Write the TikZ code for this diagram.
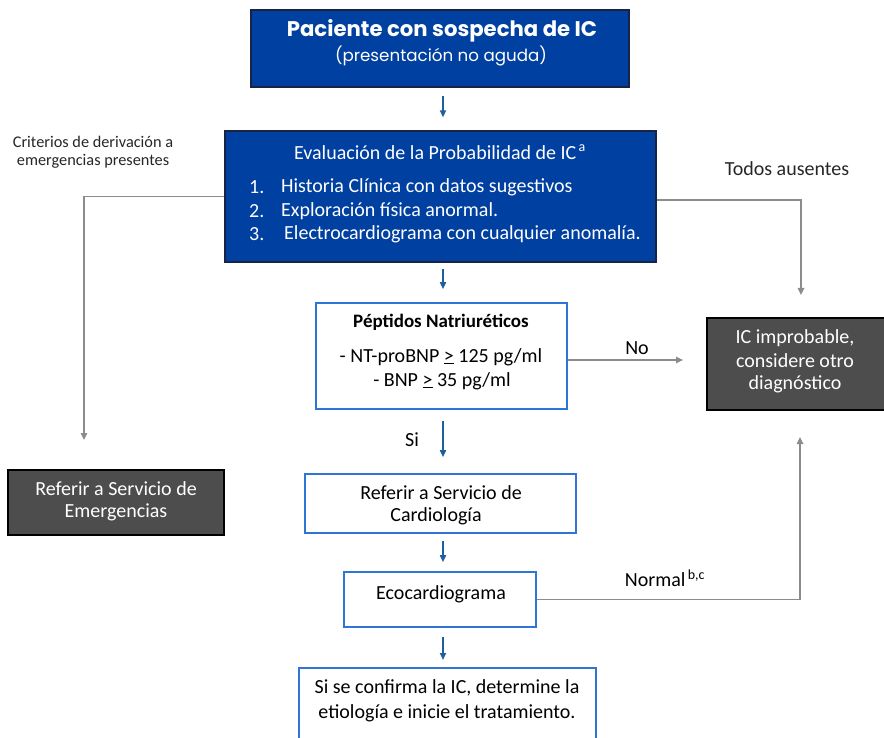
\documentclass[tikz,border=0pt]{standalone}
\usepackage{fontspec}
\setmainfont{Carlito}
\newfontfamily\headfont{Poppins}
\usetikzlibrary{arrows.meta}
\definecolor{navy}{RGB}{0,64,160}
\definecolor{navyedge}{RGB}{25,35,70}
\definecolor{boxblue}{RGB}{46,117,214}
\definecolor{arrowblue}{RGB}{30,95,160}
\definecolor{darkbox}{RGB}{77,77,77}
\definecolor{linegray}{RGB}{140,140,140}
\tikzset{
  navybox/.style={draw=navyedge, line width=1.3pt, fill=navy, inner sep=0pt},
  whitebox/.style={draw=boxblue, line width=1.6pt, fill=white, inner sep=0pt},
  greybox/.style={draw=black, line width=1.6pt, fill=darkbox, inner sep=0pt},
  txt/.style={inner sep=0pt, font=\fontsize{20}{24}\selectfont},
  wtxt/.style={txt, text=white},
  small/.style={inner sep=0pt, font=\fontsize{16.3}{19}\selectfont, text=black!85},
  flow/.style={draw=arrowblue, line width=1.6pt, -{Triangle[length=7pt,width=6pt]}},
  side/.style={draw=linegray, line width=1.6pt, -{Triangle[length=7pt,width=6.5pt]}}
}
\begin{document}
\begin{tikzpicture}[x=1pt,y=-1pt]
\useasboundingbox (0,0) rectangle (884,738);

% boxes
\node[navybox, minimum width=378pt, minimum height=77pt] (top) at (440,48.5) {};
\node[navybox, minimum width=431pt, minimum height=131pt] (eval) at (440.5,196.5) {};
\node[whitebox, minimum width=251pt, minimum height=106pt] (pep) at (441.5,356) {};
\node[whitebox, minimum width=271pt, minimum height=59pt] (cardio) at (440.5,503.5) {};
\node[whitebox, minimum width=192pt, minimum height=55pt] (eco) at (440,599.5) {};
\node[greybox, minimum width=216pt, minimum height=65pt] (emerg) at (116,502.5) {};
\node[greybox, minimum width=184pt, minimum height=92pt] (improb) at (799,364) {};
% last box runs past the lower edge
\coordinate (lastTL) at (299,668);
\coordinate (lastTR) at (596,668);
\draw[boxblue, line width=1.6pt] (299,745) -- (lastTL) -- (lastTR) -- (596,745);

% texts of the dark blue boxes
\node[inner sep=0pt, text=white, font=\headfont\bfseries\fontsize{21.2}{25}\selectfont] (t1) at (442,31) {Paciente con sospecha de IC};
\node[inner sep=0pt, text=white, font=\headfont\fontsize{16.7}{20}\selectfont] (t2) at (441,56) {(presentación no aguda)};
\node[wtxt] (e0) at (440,152) {Evaluación de la Probabilidad de IC\textsuperscript{\,a}};
\node[wtxt, anchor=west] (n1) at (249,187) {1.};
\node[wtxt, anchor=west] (n2) at (249,211) {2.};
\node[wtxt, anchor=west] (n3) at (249,234) {3.};
\node[wtxt, anchor=west] (e1) at (281,187) {Historia Clínica con datos sugestivos};
\node[wtxt, anchor=west] (e2) at (281,211) {Exploración física anormal.};
\node[wtxt, anchor=west] (e3) at (284,234) {Electrocardiograma con cualquier anomalía.};

% texts of the white boxes
\node[txt, font=\bfseries\fontsize{19}{23}\selectfont] (p0) at (441,322) {Péptidos Natriuréticos};
\node[txt] (p1) at (441,357) {- NT-proBNP \underline{>} 125 pg/ml};
\node[txt] (p2) at (442,381) {- BNP \underline{>} 35 pg/ml};
\node[txt] (c1) at (441,493) {Referir a Servicio de};
\node[txt] (c2) at (436,516) {Cardiología};
\node[txt] (ec) at (441,594) {Ecocardiograma};
\node[txt] (l1) at (447,688) {Si se confirma la IC, determine la};
\node[txt] (l2) at (447,713) {etiología e inicie el tratamiento.};

% texts of the grey boxes
\node[wtxt] (m1) at (116,489) {Referir a Servicio de};
\node[wtxt] (m2) at (116,512) {Emergencias};
\node[wtxt] (i1) at (795,338) {IC improbable,};
\node[wtxt] (i2) at (795,361) {considere otro};
\node[wtxt] (i3) at (795,384) {diagnóstico};

% free labels
\node[small] (k1) at (93,142) {Criterios de derivación a};
\node[small] (k2) at (93,161) {emergencias presentes};
\node[txt, text=black!85] (k3) at (787,169) {Todos ausentes};
\node[txt] (k4) at (637,348) {No};
\node[txt] (k5) at (412,440) {Si};
\node[txt] (k6) at (665,578) {Normal\textsuperscript{\,b,c}};

% main column of arrows
\coordinate (col) at (443,0);
\draw[flow, shorten <=8pt, shorten >=13pt] (top.south -| col) -- (eval.north -| col);
\draw[flow, shorten <=6pt, shorten >=13pt] (eval.south -| col) -- (pep.north -| col);
\draw[flow, shorten <=11pt, shorten >=16pt] (pep.south -| col) -- (cardio.north -| col);
\draw[flow, shorten <=7pt, shorten >=9pt] (cardio.south -| col) -- (eco.north -| col);
\draw[flow, shorten <=9pt, shorten >=8pt] (eco.south -| col) -- (lastTL -| col);

% side branches
\coordinate (lefttip) at (84,440);
\coordinate (righttip) at (801,295);
\coordinate (notip) at (683,360);
\coordinate (normtip) at (800,437);
\draw[side] (eval.west) -| (lefttip);
\draw[side] ([yshift=-3.5pt]eval.east) -| (righttip);
\draw[side] ([yshift=-4pt]pep.east) -- (notip);
\draw[side] (eco.east) -| (normtip);
\end{tikzpicture}
\end{document}
